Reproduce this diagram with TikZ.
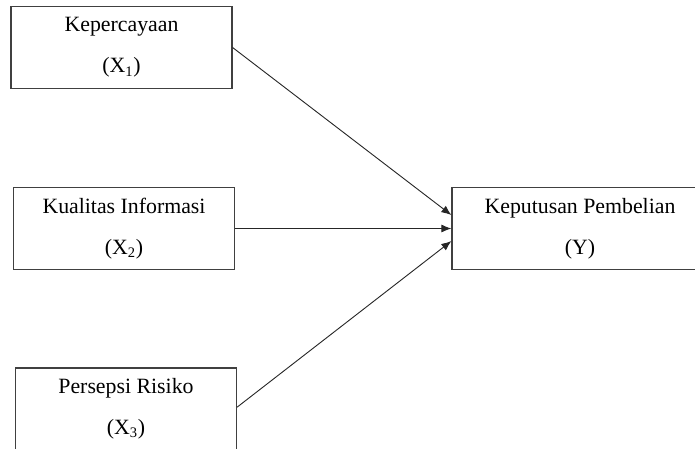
\documentclass[tikz,border=0pt]{standalone}
\usepackage{fontspec}
\usetikzlibrary{arrows.meta}
\setmainfont{Liberation Serif}

\begin{document}
\begin{tikzpicture}[x=0.55pt,y=-0.55pt,shorten >=0pt,-{Latex[length=5.5pt,width=4.4pt]},draw=black!85]
    \tikzstyle{varbox}=[rectangle,draw=black!75,line width=0.7pt,minimum height=45pt,inner sep=0pt,align=center,font=\fontsize{12}{22.5}\selectfont]
    \tikzstyle{input varbox}=[varbox, minimum width=121.5pt]
    \tikzstyle{output varbox}=[varbox, minimum width=140.8pt]

    \useasboundingbox (0,0) rectangle (695,448);

    % Independent variables
    \node[input varbox] (X-1) at (121.5, 47.5) {Kepercayaan\\(X\textsubscript{1})};
    \node[input varbox] (X-2) at (124, 228.5) {Kualitas Informasi\\(X\textsubscript{2})};
    \node[input varbox] (X-3) at (126, 409) {Persepsi Risiko\\(X\textsubscript{3})};

    % Dependent variable
    \node[output varbox] (Y) at (580, 228.5) {Keputusan Pembelian\\(Y)};

    % Links
    \draw[line width=0.5pt] (X-1.east) -- ([yshift=7.4pt]Y.west);
    \draw[line width=0.5pt] (X-2.east) -- (Y.west);
    \draw[line width=0.5pt] ([yshift=1pt]X-3.east) -- ([yshift=-6.9pt]Y.west);

\end{tikzpicture}
\end{document}
